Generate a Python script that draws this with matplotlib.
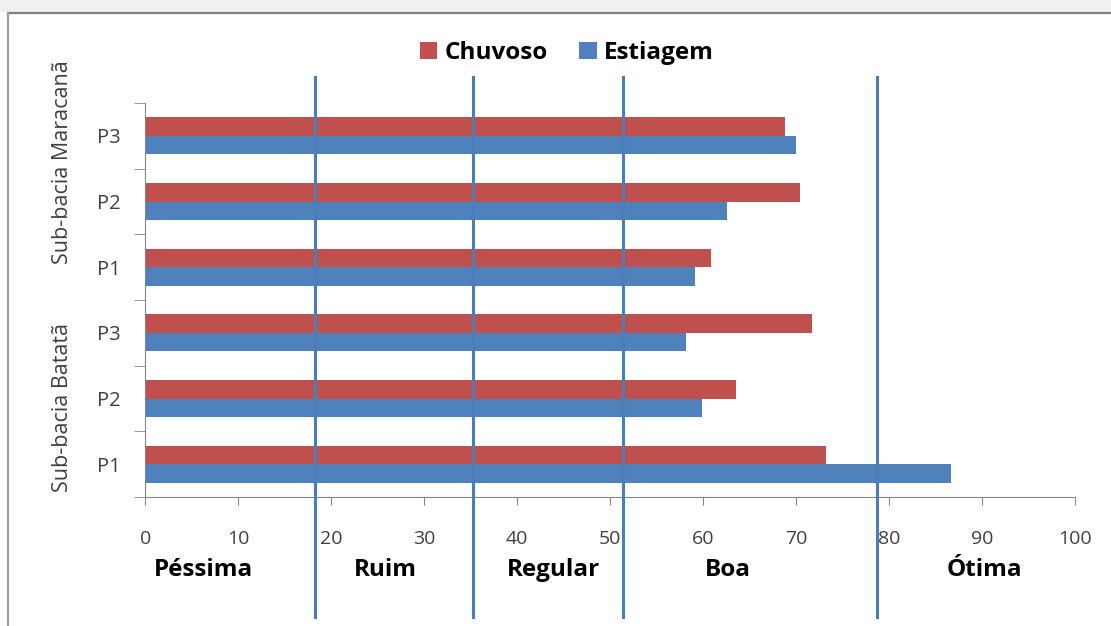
import matplotlib
matplotlib.use("Agg")
import matplotlib.pyplot as plt
from matplotlib import font_manager
from matplotlib.patches import Patch, Rectangle
from matplotlib.lines import Line2D
import numpy as np

# categories bottom to top (barh draws from bottom)
pontos = ["P1", "P2", "P3", "P1", "P2", "P3"]
sub_bacias = ["Sub-bacia Batatã", "Sub-bacia Maracanã"]
chuvoso = [73.2, 63.5, 71.7, 60.8, 70.4, 68.8]
estiagem = [86.7, 59.9, 58.2, 59.1, 62.6, 70.0]
limites = [18.3, 35.2, 51.4, 78.7]
classes = ["Péssima", "Ruim", "Regular", "Boa", "Ótima"]
classes_x = [6.3, 25.8, 43.9, 62.7, 90.3]

installed = {f.name for f in font_manager.fontManager.ttflist}
fam = "Liberation Sans Narrow" if "Liberation Sans Narrow" in installed else "Open Sans"
plt.rcParams["font.family"] = [fam, "DejaVu Sans"]

RED = "#C0504D"
BLUE = "#4F81BD"
GRAY = "#404040"

fig = plt.figure(figsize=(11.11, 6.26), dpi=100)
fig.patch.set_facecolor("white")

# light band and frame like the screenshot
fig.add_artist(Rectangle((0, 1 - 12 / 626), 1, 12 / 626, transform=fig.transFigure,
                         facecolor="#F0F0F0", edgecolor="none"))
fig.add_artist(Line2D([8 / 1111, 1], [1 - 13 / 626, 1 - 13 / 626], transform=fig.transFigure,
                      color="#808080", lw=1.6))
fig.add_artist(Line2D([8 / 1111, 8 / 1111], [0, 1 - 13 / 626], transform=fig.transFigure,
                      color="#A0A0A0", lw=1.6))

ax = fig.add_axes([145.3 / 1111, 1 - 497 / 626, 929.7 / 1111, 394 / 626])

y = np.arange(len(pontos))
h = 0.282
ax.barh(y + h / 2, chuvoso, height=h, color=RED, label="Chuvoso", zorder=2)
ax.barh(y - h / 2, estiagem, height=h, color=BLUE, label="Estiagem", zorder=2)

ax.set_xlim(0, 100)
ax.set_ylim(-0.5, len(pontos) - 0.5)

ax.set_xticks(np.arange(0, 101, 10))
ax.tick_params(axis="x", direction="out", length=6, color="#868686", pad=18,
               labelsize=14, labelcolor=GRAY)

ax.set_yticks(y)
ax.set_yticklabels(pontos)
ax.tick_params(axis="y", which="major", length=0, pad=18, labelsize=14.5, labelcolor=GRAY)
ax.set_yticks(np.arange(-0.5, len(pontos), 1), minor=True)
ax.tick_params(axis="y", which="minor", direction="out", length=8, color="#868686")

for s in ["top", "right"]:
    ax.spines[s].set_visible(False)
for s in ["left", "bottom"]:
    ax.spines[s].set_color("#868686")

# class boundary lines running outside the axes
for v in limites:
    ax.axvline(v, ymin=-0.305, ymax=1.066, color="#4A7EBB", lw=2.2, clip_on=False, zorder=3)

for name, xc in zip(classes, classes_x):
    ax.text(xc, -0.5 - 73 / 65.6, name, ha="center", va="center", fontsize=17.5,
            fontweight="bold", color="black")

fig.text(63 / 1111, 1 - 408 / 626, sub_bacias[0], rotation=90, ha="center", va="center",
         fontsize=15.5, color=GRAY)
fig.text(63 / 1111, 1 - 162 / 626, sub_bacias[1], rotation=90, ha="center", va="center",
         fontsize=15.5, color=GRAY)

handles = [Patch(facecolor=RED), Patch(facecolor=BLUE)]
fig.legend(handles, ["Chuvoso", "Estiagem"], loc="center", ncol=2,
           bbox_to_anchor=(567 / 1111, 1 - 53 / 626), frameon=False,
           prop={"weight": "bold", "size": 17.5}, handlelength=0.7, handleheight=0.7,
           handletextpad=0.3, columnspacing=1.3)

fig.savefig("out.png", dpi=100, facecolor="white")
